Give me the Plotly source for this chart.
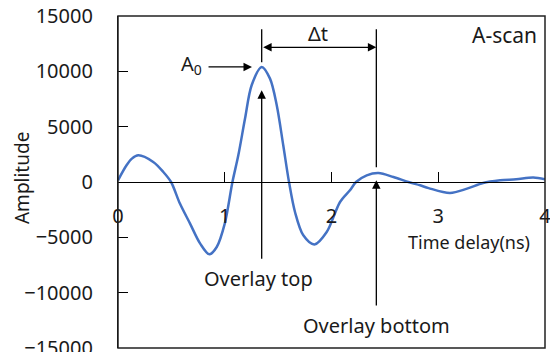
import plotly.graph_objects as go

# A-scan waveform: time delay (ns) vs amplitude
time_ns = [0.00, 0.08, 0.13, 0.19, 0.33, 0.425, 0.497, 0.58, 0.675, 0.77, 0.855,
           0.925, 1.00, 1.072, 1.127, 1.19, 1.252, 1.346, 1.424, 1.487, 1.548,
           1.602, 1.658, 1.736, 1.84, 1.955, 2.08, 2.173, 2.23, 2.33, 2.44,
           2.58, 2.72, 2.83, 2.91, 3.11, 3.27, 3.42, 3.58, 3.73, 3.89, 4.00]
amplitude = [150, 1510, 2110, 2410, 1810, 900, 0, -1950, -3760, -5570, -6530,
             -5870, -3760, 0, 2410, 5730, 8740, 10400, 9340, 6930, 3320,
             0, -2710, -4820, -5650, -4520, -1810, -750, 0, 605, 815,
             450, 0, -300, -550, -990, -600, -90, 150, 245, 400, 250]

x_ticks = [0, 1, 2, 3, 4]
y_ticks = [-15000, -10000, -5000, 0, 5000, 10000, 15000]

# Echo markers: top-surface peak and bottom-surface reflection
peak_idx = amplitude.index(max(amplitude))
top_t = time_ns[peak_idx]
top_v = amplitude[peak_idx]
bottom_t = 2.42

FONT = "Noto Sans"
BLUE = "#4472C4"
INK = "#1a1a1a"

fig = go.Figure()
fig.add_trace(go.Scatter(
    x=time_ns, y=amplitude, mode="lines",
    line=dict(color=BLUE, width=2.5, shape="spline", smoothing=0.9),
    hoverinfo="x+y", showlegend=False,
))

# plot frame
fig.add_shape(type="rect", xref="paper", yref="paper", x0=0, x1=1, y0=0, y1=1,
              line=dict(color="#222222", width=1.5), layer="above")

line_style = dict(color="black", width=1.3)
# vertical reference lines above the peak and the bottom echo
fig.add_shape(type="line", x0=top_t, x1=top_t, y0=10820, y1=13800, line=line_style)
fig.add_shape(type="line", x0=bottom_t, x1=bottom_t, y0=1330, y1=13800, line=line_style)

arrow = dict(showarrow=True, arrowhead=2, arrowsize=1.3, arrowwidth=1.3,
             arrowcolor="black", axref="x", ayref="y", text="")
annotations = [
    # Δt double arrow
    dict(x=bottom_t, y=12170, ax=top_t, ay=12170, arrowside="end+start", **arrow),
    # A0 arrow to the peak
    dict(x=1.255, y=top_v, ax=0.834, ay=top_v, **arrow),
    # Overlay top arrow
    dict(x=top_t, y=8280, ax=top_t, ay=-7070, **arrow),
    # Overlay bottom arrow
    dict(x=bottom_t, y=150, ax=bottom_t, ay=-11300, **arrow),
]

def label(text, x, y, size):
    return dict(text=text, x=x, y=y, xref="x", yref="y", showarrow=False,
                font=dict(family=FONT, size=size, color=INK),
                xanchor="center", yanchor="middle")

annotations += [
    label("A-scan", 3.625, 13260, 21),
    label("Δt", 1.874, 13440, 20),
    label("A<sub>0</sub>", 0.684, 10630, 20),
    label("Overlay top", 1.32, -8700, 20),
    label("Overlay bottom", 2.417, -12950, 20),
    label("Time delay(ns)", 3.29, -5450, 18),
    # y-axis title
    dict(text="Amplitude", x=-0.2248, y=0.512, xref="paper", yref="paper",
         showarrow=False, textangle=-90, xanchor="center", yanchor="middle",
         font=dict(family=FONT, size=19, color=INK)),
]

fig.update_layout(
    width=550, height=352,
    margin=dict(l=118, r=5, t=16, b=4, autoexpand=False),
    paper_bgcolor="white", plot_bgcolor="white",
    font=dict(family=FONT, color=INK),
    annotations=annotations,
    xaxis=dict(
        range=[0, 4], tickvals=x_ticks, anchor="free", position=0.5,
        showline=True, linecolor="black", linewidth=1.3,
        ticks="inside", ticklen=10, tickcolor="black", tickwidth=1.3,
        ticklabelstandoff=16, ticklabeloverflow="allow", automargin=False,
        showgrid=False, zeroline=False,
        tickfont=dict(family=FONT, size=20, color=INK),
    ),
    yaxis=dict(
        range=[-15000, 15000], tickvals=y_ticks, tickformat="d",
        showline=True, linecolor="black", linewidth=1.3,
        ticks="inside", ticklen=10, tickcolor="black", tickwidth=1.3,
        ticklabelstandoff=20, ticklabeloverflow="allow", automargin=False,
        showgrid=False, zeroline=False,
        tickfont=dict(family=FONT, size=20, color=INK),
    ),
)

fig.write_html("out.html")
